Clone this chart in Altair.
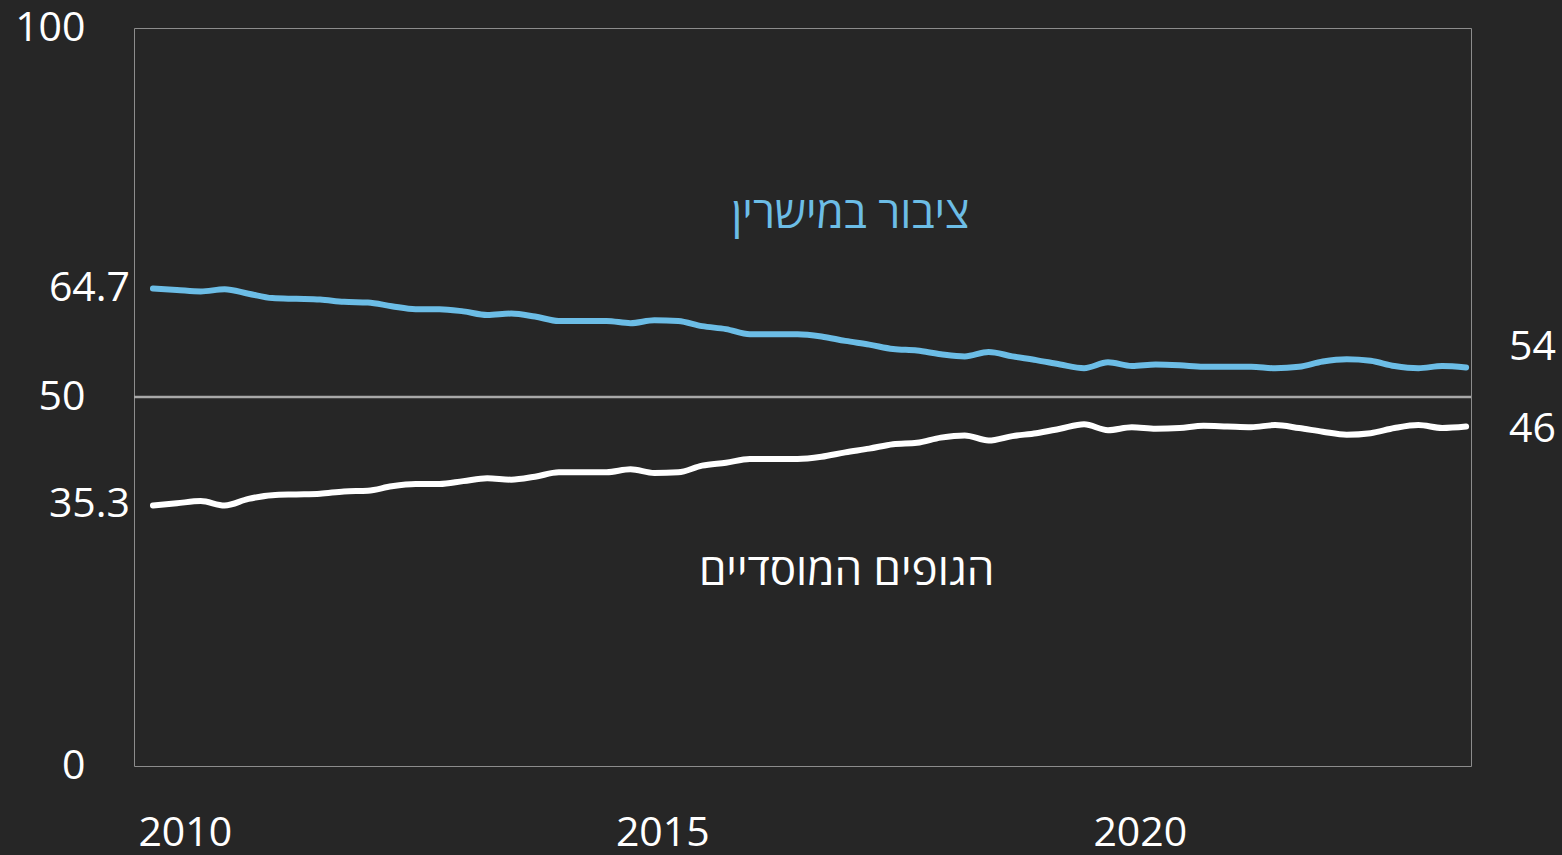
import altair as alt
import pandas as pd

# Quarterly observations (first month of each quarter, Sep 2009 - Jun 2023)
quarters = pd.date_range("2009-09-01", periods=56, freq="3MS")

# Share held by the public directly (%)
public_direct = [64.7, 64.5, 64.3, 64.6, 64.0, 63.4, 63.3, 63.2, 62.9, 62.8,
                 62.3, 61.9, 61.9, 61.6, 61.1, 61.3, 60.9, 60.3, 60.3, 60.3,
                 60.0, 60.4, 60.3, 59.6, 59.2, 58.5, 58.5, 58.5, 58.2, 57.6,
                 57.1, 56.5, 56.3, 55.8, 55.5, 56.1, 55.5, 55.0, 54.4, 53.9,
                 54.7, 54.2, 54.4, 54.3, 54.1, 54.1, 54.1, 53.9, 54.1, 54.8,
                 55.1, 54.9, 54.2, 53.9, 54.2, 54.0]

# Share held by institutional bodies (%)
institutional = [35.3, 35.6, 35.9, 35.3, 36.2, 36.7, 36.8, 36.9, 37.2, 37.3,
                 37.9, 38.2, 38.2, 38.6, 39.0, 38.8, 39.2, 39.8, 39.8, 39.8,
                 40.2, 39.7, 39.8, 40.7, 41.1, 41.6, 41.6, 41.6, 41.9, 42.5,
                 43.0, 43.6, 43.8, 44.5, 44.8, 44.1, 44.7, 45.1, 45.7, 46.3,
                 45.5, 45.9, 45.7, 45.8, 46.1, 46.0, 45.9, 46.2, 45.8, 45.3,
                 44.9, 45.1, 45.8, 46.2, 45.8, 46.0]

series_names = ["ציבור במישרין", "הגופים המוסדיים"]
series_colors = ["#6cbde6", "#ffffff"]

# Series-name annotations (year, value)
label_years = [2016.97, 2016.93]
label_values = [74.7, 26.3]

ref_value = [50]
y_ticks = [0, 50, 100]
x_ticks = [2010, 2015, 2020]

FONT = "Open Sans, Liberation Sans, DejaVu Sans, sans-serif"
FS = 41

year_frac = [q.year + (q.month - 1) / 12 for q in quarters]

df = pd.DataFrame({
    "t": year_frac * 2,
    "v": public_direct + institutional,
    "s": [series_names[0]] * len(public_direct) + [series_names[1]] * len(institutional),
})

first_df = pd.DataFrame({"t": [year_frac[0]] * 2,
                         "v": [public_direct[0], institutional[0]],
                         "s": series_names})
last_pub = pd.DataFrame({"t": [year_frac[-1]], "v": [public_direct[-1]], "s": [series_names[0]]})
last_inst = pd.DataFrame({"t": [year_frac[-1]], "v": [institutional[-1]], "s": [series_names[1]]})
ann_df = pd.DataFrame({"t": label_years, "v": label_values, "s": series_names})
rule_df = pd.DataFrame({"v": ref_value})

xscale = alt.Scale(domain=[2009.468, 2023.468], nice=False, zero=False)
yscale = alt.Scale(domain=[0, 100], nice=False)
cscale = alt.Scale(domain=series_names, range=series_colors)

x_enc = alt.X("t:Q", scale=xscale,
              axis=alt.Axis(values=x_ticks, format="d", title=None, grid=False,
                            ticks=False, domain=False, labelPadding=47,
                            labelFontSize=FS, labelColor="#ffffff", labelFont=FONT))
y_enc = alt.Y("v:Q", scale=yscale,
              axis=alt.Axis(values=y_ticks, title=None, grid=False, ticks=False,
                            domain=False, labelPadding=49, labelFontSize=FS,
                            labelColor="#ffffff", labelFont=FONT))

rule = alt.Chart(rule_df).mark_rule(color="#a8a8a8", strokeWidth=2.5).encode(
    y=alt.Y("v:Q", scale=yscale)
)

lines = alt.Chart(df).mark_line(strokeWidth=6, interpolate="monotone",
                                strokeCap="round", strokeJoin="round").encode(
    x=x_enc, y=y_enc,
    color=alt.Color("s:N", scale=cscale, legend=None),
)

left_labels = alt.Chart(first_df).mark_text(
    align="right", baseline="middle", font=FONT, fontSize=FS, color="#ffffff"
).encode(
    x=alt.value(-4),
    y=alt.Y("v:Q", scale=yscale),
    text=alt.Text("v:Q", format=".1f"),
)

right_pub = alt.Chart(last_pub).mark_text(
    align="left", baseline="middle", font=FONT, fontSize=FS, color="#ffffff", dy=-19
).encode(
    x=alt.value(1375),
    y=alt.Y("v:Q", scale=yscale),
    text=alt.Text("v:Q", format=".0f"),
)

right_inst = alt.Chart(last_inst).mark_text(
    align="left", baseline="middle", font=FONT, fontSize=FS, color="#ffffff", dy=3
).encode(
    x=alt.value(1375),
    y=alt.Y("v:Q", scale=yscale),
    text=alt.Text("v:Q", format=".0f"),
)

names = alt.Chart(ann_df).mark_text(
    align="center", baseline="middle", font=FONT, fontSize=44
).encode(
    x=alt.X("t:Q", scale=xscale),
    y=alt.Y("v:Q", scale=yscale),
    text="s:N",
    color=alt.Color("s:N", scale=cscale, legend=None),
)

chart = alt.layer(rule, lines, left_labels, right_pub, right_inst, names).properties(
    width=1337, height=738,
    autosize=alt.AutoSizeParams(type="none"),
    padding={"left": 134, "top": 28, "right": 90, "bottom": 89},
    background="#262626",
).configure_view(
    stroke="#8c8c8c", strokeWidth=1
)

chart.save("out.html", embed_options={
    "renderer": "svg", "actions": False,
    "defaultStyle": "html,body{background-color:#262626;margin:0;padding:0;overflow:hidden;}"})
